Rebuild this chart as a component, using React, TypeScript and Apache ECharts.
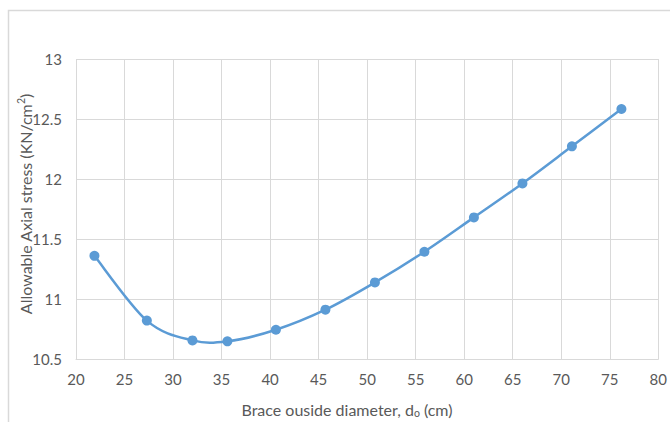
import React, { useEffect, useRef } from "react";
import * as echarts from "echarts";

const diameters = [21.9, 27.3, 32.0, 35.6, 40.6, 45.7, 50.8, 55.9, 61.0, 66.0, 71.1, 76.2];
const stresses = [11.36, 10.82, 10.655, 10.647, 10.744, 10.911, 11.138, 11.394, 11.68, 11.963, 12.272, 12.583];
const xTitleMain = "Brace ouside diameter, d";
const xTitleSub = "o";
const xTitleEnd = " (cm)";
const yTitleMain = "Allowable Axial stress (KN/cm";
const yTitleSup = "2";
const yTitleEnd = ")";

const FONT = "Lato, 'Open Sans', sans-serif";
const GRAY = "#595959";
const GRID = "#d9d9d9";
const BLUE = "#5B9BD5";

export default function App() {
  const ref = useRef<HTMLDivElement>(null);
  useEffect(() => {
    if (!ref.current) return;
    const chart = echarts.init(ref.current, undefined, { renderer: "svg" });
    const data = diameters.map((d, i) => [d, stresses[i]]);
    const renderCurve = (params: any, api: any) => {
      if (params.dataIndex !== 0) return null;
      const pts = data.map((p) => api.coord(p));
      const n = pts.length;
      const t = 1 / 6;
      let d = `M${pts[0][0]},${pts[0][1]}`;
      for (let i = 0; i < n - 1; i++) {
        const p0 = pts[Math.max(0, i - 1)];
        const p1 = pts[i];
        const p2 = pts[i + 1];
        const p3 = pts[Math.min(n - 1, i + 2)];
        const c1x = p1[0] + (p2[0] - p0[0]) * t;
        const c1y = p1[1] + (p2[1] - p0[1]) * t;
        const c2x = p2[0] - (p3[0] - p1[0]) * t;
        const c2y = p2[1] - (p3[1] - p1[1]) * t;
        d += ` C${c1x},${c1y} ${c2x},${c2y} ${p2[0]},${p2[1]}`;
      }
      return {
        type: "path",
        shape: { pathData: d },
        style: { fill: "none", stroke: BLUE, lineWidth: 2.5 },
      };
    };
    chart.setOption({
      animation: false,
      backgroundColor: "#ffffff",
      textStyle: { fontFamily: FONT },
      grid: { left: 76, right: 9, top: 59, bottom: 63, containLabel: false },
      xAxis: {
        type: "value",
        min: 20,
        max: 80,
        interval: 5,
        axisLine: { show: true, lineStyle: { color: GRID, width: 1 } },
        axisTick: { show: false },
        axisLabel: { color: GRAY, fontSize: 15, fontFamily: FONT, margin: 12 },
        splitLine: { show: true, lineStyle: { color: GRID, width: 1 } },
      },
      yAxis: {
        type: "value",
        min: 10.5,
        max: 13,
        interval: 0.5,
        axisLine: { show: false },
        axisTick: { show: false },
        axisLabel: { color: GRAY, fontSize: 15, fontFamily: FONT, margin: 14 },
        splitLine: { show: true, lineStyle: { color: GRID, width: 1 } },
      },
      series: [
        {
          type: "custom",
          data,
          renderItem: renderCurve,
          encode: { x: 0, y: 1 },
          z: 2,
        },
        {
          type: "scatter",
          data,
          symbol: "circle",
          symbolSize: 10,
          itemStyle: { color: BLUE, opacity: 1 },
          z: 3,
        },
      ],
      graphic: [
        {
          type: "rect",
          silent: true,
          z: -10,
          shape: { x: 8.5, y: 10.5, width: 700, height: 500 },
          style: { fill: "none", stroke: "#d9d9d9", lineWidth: 1.5 },
        },
        {
          type: "text",
          x: 347,
          y: 409,
          style: {
            text: `{a|${xTitleMain}}{s|${xTitleSub}}{a|${xTitleEnd}}`,
            textAlign: "center",
            textVerticalAlign: "middle",
            rich: {
              a: { fontSize: 16, fontFamily: FONT, fill: GRAY, lineHeight: 20 },
              s: { fontSize: 10.5, fontFamily: FONT, fill: GRAY, lineHeight: 20, padding: [8, 0, 0, 0] },
            },
          },
        },
        {
          type: "text",
          x: 25,
          y: 204,
          rotation: Math.PI / 2,
          style: {
            text: `{a|${yTitleMain}}{s|${yTitleSup}}{a|${yTitleEnd}}`,
            textAlign: "center",
            textVerticalAlign: "middle",
            rich: {
              a: { fontSize: 16, fontFamily: FONT, fill: GRAY, lineHeight: 20 },
              s: { fontSize: 10.5, fontFamily: FONT, fill: GRAY, lineHeight: 20, padding: [0, 0, 8, 0] },
            },
          },
        },
      ],
    });
    return () => chart.dispose();
  }, []);
  return (
    <div
      ref={ref}
      style={{ position: "fixed", left: 0, top: 0, width: 670, height: 422, background: "#fff" }}
    />
  );
}
